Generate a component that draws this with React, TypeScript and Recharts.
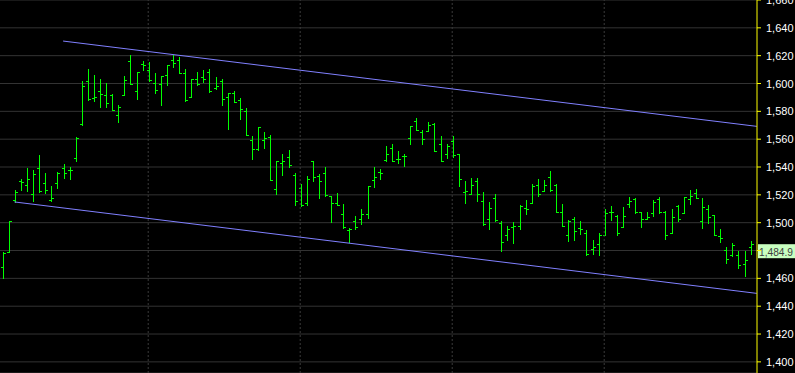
import { Bar, CartesianGrid, ComposedChart, ReferenceLine, XAxis, YAxis } from "recharts";

// OHLC bars, one per session, left to right
const opens = [
  1467.9, 1478.6, 1516.0, 1530.0, 1527.4, 1520.9, 1539.6, 1528.8, 1516.0, 1528.4,
  1539.6, 1538.0, 1546.8, 1571.2, 1602.0, 1589.8, 1594.8, 1592.0, 1591.7, 1577.6,
  1591.7, 1616.3, 1594.8, 1614.0, 1609.9, 1600.6, 1599.4, 1606.3, 1617.0, 1617.0,
  1607.2, 1590.5, 1603.4, 1604.9, 1608.4, 1597.0, 1602.0, 1590.5, 1593.4, 1588.4,
  1580.5, 1559.7, 1553.2, 1559.4, 1561.3, 1524.5, 1543.2, 1547.5, 1534.6, 1525.2,
  1513.8, 1544.4, 1533.9, 1536.0, 1519.0, 1513.8, 1506.1, 1494.4, 1500.9, 1502.3,
  1506.6, 1530.7, 1536.3, 1545.3, 1553.5, 1546.0, 1548.0, 1561.1, 1572.8, 1565.4,
  1566.1, 1571.2, 1556.8, 1549.6, 1559.0, 1549.2, 1521.7, 1520.7, 1529.6, 1515.4,
  1502.3, 1517.4, 1499.7, 1490.8, 1496.8, 1497.3, 1510.2, 1513.8, 1527.4, 1523.1,
  1533.1, 1526.9, 1508.0, 1491.5, 1502.3, 1495.9, 1492.3, 1480.8, 1484.4, 1490.8,
  1508.0, 1504.7, 1496.6, 1513.5, 1516.9, 1507.6, 1502.3, 1507.3, 1517.1, 1508.0,
  1492.9, 1512.1, 1507.1, 1517.1, 1521.0, 1501.0, 1510.0, 1505.2, 1490.7, 1480.5,
  1477.1, 1476.7, 1470.2, 1482.4,
];
const highs = [
  1478.6, 1501.1, 1523.3, 1531.2, 1539.1, 1537.7, 1548.4, 1535.5, 1526.2, 1536.3,
  1542.5, 1540.3, 1561.3, 1601.5, 1610.6, 1605.8, 1603.4, 1600.1, 1592.7, 1584.3,
  1605.1, 1620.2, 1608.0, 1615.9, 1615.1, 1607.2, 1605.6, 1613.5, 1620.2, 1619.0,
  1610.6, 1603.4, 1608.0, 1609.4, 1610.6, 1604.9, 1603.4, 1593.4, 1594.8, 1589.8,
  1582.6, 1562.1, 1569.0, 1565.4, 1562.8, 1544.6, 1549.2, 1552.0, 1536.0, 1528.1,
  1533.4, 1544.6, 1535.3, 1539.8, 1519.5, 1521.2, 1513.3, 1496.1, 1504.7, 1509.5,
  1526.2, 1539.8, 1538.4, 1555.4, 1556.3, 1551.3, 1549.6, 1569.7, 1575.5, 1566.8,
  1572.1, 1571.9, 1562.5, 1556.3, 1562.5, 1549.6, 1529.8, 1532.0, 1532.0, 1521.9,
  1514.7, 1520.5, 1500.9, 1497.3, 1500.4, 1512.6, 1516.2, 1527.6, 1531.2, 1530.5,
  1537.0, 1528.1, 1513.3, 1501.8, 1504.0, 1501.1, 1494.6, 1487.5, 1492.3, 1509.7,
  1511.9, 1505.4, 1511.1, 1518.1, 1517.6, 1508.0, 1508.0, 1516.4, 1518.8, 1508.1,
  1509.5, 1512.9, 1518.8, 1523.6, 1524.3, 1517.4, 1512.9, 1505.2, 1495.2, 1482.4,
  1485.2, 1479.5, 1479.5, 1486.7,
];
const lows = [
  1460.0, 1478.6, 1515.2, 1523.3, 1522.9, 1515.7, 1521.9, 1521.4, 1515.7, 1525.0,
  1532.2, 1531.2, 1544.4, 1570.2, 1588.1, 1587.4, 1582.9, 1582.9, 1581.0, 1572.3,
  1591.7, 1599.6, 1588.6, 1609.6, 1601.8, 1593.1, 1584.5, 1598.9, 1611.8, 1607.7,
  1587.4, 1590.5, 1599.1, 1601.0, 1594.1, 1596.3, 1584.8, 1567.3, 1586.7, 1574.5,
  1563.0, 1545.8, 1552.3, 1553.7, 1530.7, 1520.5, 1534.3, 1539.8, 1512.8, 1512.3,
  1512.8, 1530.0, 1517.8, 1519.3, 1500.6, 1512.8, 1496.3, 1485.8, 1495.6, 1499.2,
  1503.5, 1525.7, 1531.2, 1544.6, 1544.6, 1542.9, 1540.8, 1556.6, 1566.8, 1556.6,
  1565.9, 1551.8, 1544.4, 1546.5, 1547.2, 1526.4, 1514.3, 1520.7, 1515.4, 1498.5,
  1495.6, 1501.3, 1479.8, 1487.5, 1485.6, 1495.6, 1506.4, 1513.8, 1519.3, 1523.1,
  1522.9, 1507.8, 1497.8, 1487.0, 1487.5, 1492.0, 1477.0, 1477.7, 1477.0, 1490.8,
  1501.8, 1491.5, 1496.6, 1511.4, 1507.3, 1497.0, 1502.3, 1504.7, 1506.9, 1488.1,
  1492.6, 1501.2, 1507.1, 1513.3, 1517.9, 1496.0, 1499.8, 1491.2, 1486.2, 1471.0,
  1476.2, 1467.4, 1461.9, 1477.4,
];
const closes = [
  1477.9, 1501.0, 1521.7, 1529.0, 1531.2, 1535.3, 1522.9, 1523.8, 1518.0, 1535.5,
  1535.5, 1537.5, 1560.9, 1598.4, 1588.6, 1590.0, 1592.7, 1586.0, 1581.2, 1583.1,
  1602.7, 1599.6, 1608.0, 1613.5, 1602.2, 1595.0, 1605.1, 1613.5, 1615.0, 1607.7,
  1587.9, 1603.4, 1599.8, 1603.4, 1594.3, 1598.4, 1589.1, 1593.4, 1587.0, 1581.9,
  1563.2, 1553.2, 1569.0, 1560.9, 1531.0, 1544.1, 1544.6, 1541.7, 1515.9, 1513.0,
  1531.7, 1532.7, 1530.3, 1520.0, 1514.5, 1513.0, 1496.6, 1495.6, 1496.6, 1506.4,
  1526.2, 1532.7, 1536.0, 1549.6, 1544.6, 1546.0, 1548.0, 1569.7, 1566.8, 1560.4,
  1570.0, 1551.8, 1544.6, 1554.9, 1548.9, 1531.7, 1522.6, 1526.9, 1520.5, 1498.7,
  1510.9, 1501.6, 1486.0, 1495.8, 1497.3, 1512.3, 1510.0, 1526.2, 1520.5, 1526.9,
  1523.8, 1507.8, 1497.8, 1500.9, 1493.7, 1495.8, 1477.2, 1482.2, 1491.0, 1507.3,
  1508.0, 1492.3, 1504.5, 1515.4, 1507.8, 1502.3, 1504.0, 1515.2, 1507.9, 1491.4,
  1504.3, 1502.9, 1518.1, 1519.3, 1517.9, 1511.4, 1504.3, 1491.2, 1489.3, 1473.8,
  1483.8, 1469.5, 1473.1, 1484.9,
];

const yTicks = [1400, 1420, 1440, 1460, 1480, 1500, 1520, 1540, 1560, 1580, 1600, 1620, 1640, 1660];
const gridBars = [24, 49, 74, 99];

// trend channel: [bar, price] at each end
const upperChannel = [
  { x: 10, y: 1630.5 },
  { x: 124.1, y: 1569.2 },
];
const lowerChannel = [
  { x: 2, y: 1514.9 },
  { x: 124.1, y: 1449.2 },
];

const data = opens.map((open, i) => ({
  bar: i,
  open,
  high: highs[i],
  low: lows[i],
  close: closes[i],
}));

const lastClose = closes[closes.length - 1];
const fmt = (v: number, digits = 0) =>
  v.toLocaleString("en-US", { minimumFractionDigits: digits, maximumFractionDigits: digits });

const FONT = "'Liberation Sans', Arial, sans-serif";
const GREEN = "#00ff00";

function OhlcShape(props: any) {
  const { x, y, width, height, payload } = props;
  if (payload == null || height == null) return null;
  const top = Math.min(y, y + height);
  const bottom = Math.max(y, y + height);
  const span = payload.high - payload.low || 1;
  const toPx = (v: number) => top + ((payload.high - v) / span) * (bottom - top);
  const cx = Math.round(x + width / 2) + 0.5;
  const yo = Math.round(toPx(payload.open)) + 0.5;
  const yc = Math.round(toPx(payload.close)) + 0.5;
  return (
    <g shapeRendering="crispEdges" stroke={GREEN} strokeWidth={1} fill="none">
      <line x1={cx} x2={cx} y1={Math.round(top)} y2={Math.round(bottom) + 1} />
      <line x1={cx - 2.5} x2={cx} y1={yo} y2={yo} />
      <line x1={cx} x2={cx + 2.5} y1={yc} y2={yc} />
    </g>
  );
}

function AxisTick(props: any) {
  const { x, y, payload } = props;
  // the last-price tag covers the label next to it
  if (Math.abs(payload.value - lastClose) < 8) return <g />;
  return (
    <text x={x} y={y} dy={4} fill="#ffffff" fontSize={11} fontFamily={FONT} textAnchor="start">
      {fmt(payload.value)}
    </text>
  );
}

function PriceTag(props: any) {
  const vb = props.viewBox;
  if (!vb) return null;
  const left = vb.x + vb.width + 1;
  return (
    <g>
      <rect x={left} y={vb.y + 0.5} width={40} height={14} fill="#c8ffc0" />
      <text
        x={left + 1}
        y={vb.y + 12}
        fill="#404040"
        fontSize={11}
        fontFamily={FONT}
        textLength={34}
        lengthAdjust="spacingAndGlyphs"
      >
        {fmt(lastClose, 1)}
      </text>
    </g>
  );
}

export default function App() {
  return (
    <div style={{ position: "fixed", left: 0, top: 0, width: 795, height: 373, background: "#000" }}>
      <ComposedChart
        width={795}
        height={373}
        data={data}
        margin={{ top: 0, right: 0, bottom: 0, left: 0 }}
      >
        <CartesianGrid vertical={false} stroke="#333333" />
        <XAxis
          dataKey="bar"
          type="number"
          domain={[-0.378, 124.13]}
          ticks={gridBars}
          allowDataOverflow
          hide
        />
        <YAxis
          orientation="right"
          width={38}
          domain={[1392, 1660]}
          ticks={yTicks}
          interval={0}
          allowDataOverflow
          axisLine={{ stroke: "#ffff00" }}
          tickLine={{ stroke: "#ffff00" }}
          tickSize={4}
          tickMargin={5}
          tick={<AxisTick />}
        />
        {gridBars.map((b) => (
          <ReferenceLine key={b} x={b} stroke="#3a3a3a" strokeDasharray="2 2" />
        ))}
        <ReferenceLine segment={upperChannel} stroke="#8080ff" ifOverflow="visible" />
        <ReferenceLine segment={lowerChannel} stroke="#8080ff" ifOverflow="visible" />
        <Bar
          dataKey={(d: any) => [d.low, d.high]}
          barSize={5}
          shape={<OhlcShape />}
          isAnimationActive={false}
        />
        <ReferenceLine y={lastClose} stroke="none" ifOverflow="visible" label={<PriceTag />} />
      </ComposedChart>
    </div>
  );
}
